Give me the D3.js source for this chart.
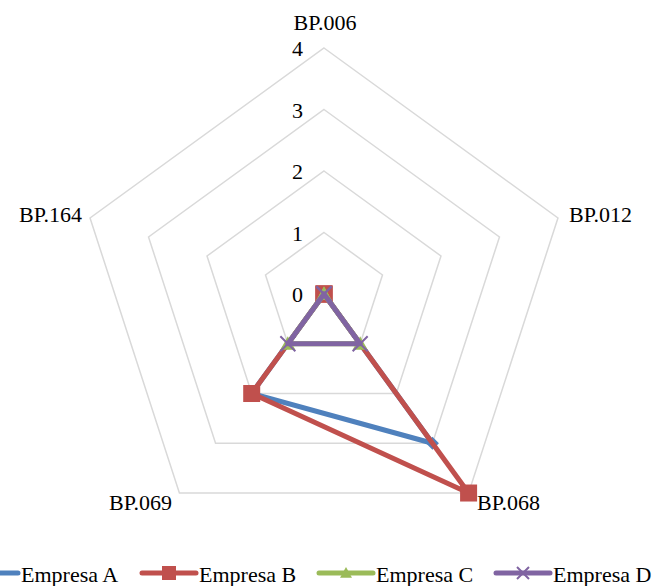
<!DOCTYPE html>
<html>
<head>
<meta charset="utf-8">
<script src="https://cdn.jsdelivr.net/npm/d3@7"></script>
<style>
  html, body { margin: 0; padding: 0; background: #fff; }
  svg { display: block; }
  text { font-family: "Liberation Serif", "Times New Roman", serif; fill: #000; }
</style>
</head>
<body>
<svg id="chart" width="661" height="586"></svg>
<script>
// Radar axes (clockwise from the top)
const categories = ["BP.006", "BP.012", "BP.068", "BP.069", "BP.164"];
const tickValues = [0, 1, 2, 3, 4];
const seriesNames = ["Empresa A", "Empresa B", "Empresa C", "Empresa D"];
const empresaA = [0, 0, 3, 2, 0];
const empresaB = [0, 0, 4, 2, 0];
const empresaC = [0, 0, 1, 1, 0];
const empresaD = [0, 0, 1, 1, 0];

const series = [
  { name: seriesNames[0], values: empresaA, color: "#4F81BD", marker: "diamond" },
  { name: seriesNames[1], values: empresaB, color: "#C0504D", marker: "square" },
  { name: seriesNames[2], values: empresaC, color: "#9BBB59", marker: "triangle" },
  { name: seriesNames[3], values: empresaD, color: "#8064A2", marker: "x" }
];

const svg = d3.select("#chart");
const cx = 324, cy = 294, R = 246;

const r = d3.scaleLinear().domain([0, 4]).range([0, R]);
const angle = d3.scaleLinear().domain([0, categories.length]).range([0, 2 * Math.PI]);

function pt(i, v) {
  const a = angle(i);
  return [cx + r(v) * Math.sin(a), cy - r(v) * Math.cos(a)];
}

// Grid pentagons
const grid = svg.append("g");
tickValues.filter(t => t > 0).forEach(t => {
  const pts = categories.map((c, i) => pt(i, t));
  grid.append("polygon")
    .attr("points", pts.map(p => p.join(",")).join(" "))
    .attr("fill", "none")
    .attr("stroke", "#D9D9D9")
    .attr("stroke-width", 1.5);
});

// Value labels along the top axis
svg.append("g").selectAll("text")
  .data(tickValues)
  .join("text")
  .attr("x", 303)
  .attr("y", d => cy - r(d) + 8)
  .attr("text-anchor", "end")
  .attr("font-size", 22)
  .text(d => d);

// Category labels
const catPos = [
  { x: cx + 1, y: 30, anchor: "middle" },
  { x: 569, y: 222, anchor: "start" },
  { x: 477, y: 510, anchor: "start" },
  { x: 172, y: 510, anchor: "end" },
  { x: 82, y: 222, anchor: "end" }
];
svg.append("g").selectAll("text")
  .data(categories)
  .join("text")
  .attr("x", (d, i) => catPos[i].x)
  .attr("y", (d, i) => catPos[i].y)
  .attr("text-anchor", (d, i) => catPos[i].anchor)
  .attr("font-size", 22)
  .text(d => d);

// Marker shapes
function drawMarker(g, type, color, x, y, s) {
  if (type === "square") {
    g.append("rect").attr("x", x - s / 2).attr("y", y - s / 2)
      .attr("width", s).attr("height", s).attr("fill", color);
  } else if (type === "diamond") {
    const h = s / 2;
    g.append("polygon")
      .attr("points", `${x},${y - h} ${x + h},${y} ${x},${y + h} ${x - h},${y}`)
      .attr("fill", color);
  } else if (type === "triangle") {
    const h = s / 2;
    g.append("polygon")
      .attr("points", `${x},${y - h} ${x + h},${y + h * 0.8} ${x - h},${y + h * 0.8}`)
      .attr("fill", color);
  } else if (type === "x") {
    const h = s / 2;
    g.append("path")
      .attr("d", `M${x - h},${y - h}L${x + h},${y + h}M${x - h},${y + h}L${x + h},${y - h}`)
      .attr("stroke", color).attr("stroke-width", 2).attr("fill", "none");
  }
}

const markerSize = { diamond: 13, square: 17, triangle: 15, x: 15 };

const line = d3.line().curve(d3.curveLinearClosed);

series.forEach(s => {
  const g = svg.append("g");
  const pts = s.values.map((v, i) => pt(i, v));
  g.append("path")
    .attr("d", line(pts))
    .attr("fill", "none")
    .attr("stroke", s.color)
    .attr("stroke-width", 5)
    .attr("stroke-linejoin", "round");
  pts.forEach(p => drawMarker(g, s.marker, s.color, p[0], p[1], markerSize[s.marker]));
});

// Legend
const legendX = [-36, 142, 319, 496];
const legendY = 573;
const legend = svg.append("g");
series.forEach((s, i) => {
  const x0 = legendX[i];
  legend.append("line")
    .attr("x1", x0).attr("x2", x0 + 54)
    .attr("y1", legendY).attr("y2", legendY)
    .attr("stroke", s.color).attr("stroke-width", 5)
    .attr("stroke-linecap", "round");
  drawMarker(legend, s.marker, s.color, x0 + 27, legendY, s.marker === "square" ? 14 : 12);
  legend.append("text")
    .attr("x", x0 + 57)
    .attr("y", 582)
    .attr("font-size", 22)
    .text(s.name);
});
</script>
</body>
</html>
